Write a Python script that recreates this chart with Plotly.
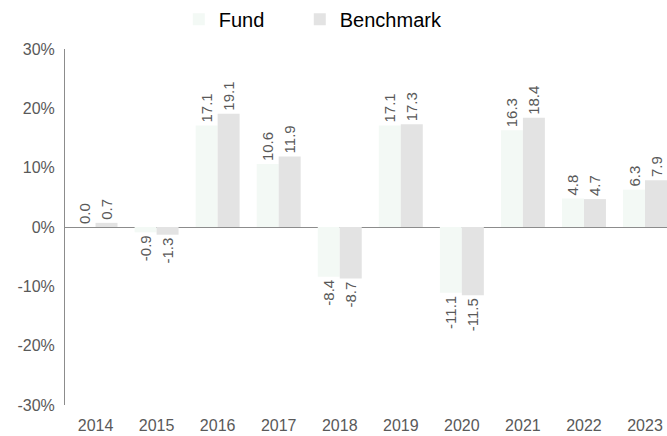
import plotly.graph_objects as go

years = ["2014", "2015", "2016", "2017", "2018", "2019", "2020", "2021", "2022", "2023"]
fund = [0.0, -0.9, 17.1, 10.6, -8.4, 17.1, -11.1, 16.3, 4.8, 6.3]
benchmark = [0.7, -1.3, 19.1, 11.9, -8.7, 17.3, -11.5, 18.4, 4.7, 7.9]
y_ticks = [-30, -20, -10, 0, 10, 20, 30]
y_tick_labels = [f"{v}%" for v in y_ticks]

font_family = "Liberation Sans, Arial, sans-serif"
gray = "#595959"

fig = go.Figure()
for name, vals, color, lg in [("Fund", fund, "#F3F9F5", "legend"),
                              ("Benchmark", benchmark, "#E3E3E3", "legend2")]:
    fig.add_trace(go.Bar(
        x=years, y=vals, name=name, legend=lg, showlegend=True,
        marker=dict(color=color, line=dict(width=0)),
        text=[f"{v:.1f}" for v in vals], textposition="outside", textangle=-90,
        constraintext="none",
        textfont=dict(family=font_family, size=15, color=gray), cliponaxis=False,
    ))

legend_common = dict(orientation="h", xanchor="left", yref="container", y=0.956,
                     yanchor="middle", font=dict(family=font_family, size=20, color="black"))

fig.update_layout(
    width=667, height=436, margin=dict(l=65, r=0, t=49, b=31),
    plot_bgcolor="white", paper_bgcolor="white",
    barmode="group", bargap=0.28, bargroupgap=0,
    font=dict(family=font_family, color=gray, size=15),
    legend=dict(x=0.189, **legend_common),
    legend2=dict(x=0.39, **legend_common),
    xaxis=dict(range=[-0.5, 9.36], showline=False, ticks="", automargin=False,
               ticklabelstandoff=9, tickfont=dict(size=16, color=gray)),
    yaxis=dict(range=[-30, 30], tickvals=y_ticks, ticktext=y_tick_labels, showgrid=False,
               showline=True, linecolor="#8c8c8c", linewidth=1, zeroline=True,
               zerolinecolor="#8c8c8c", zerolinewidth=1, ticks="", automargin=False,
               ticklabelstandoff=6, tickfont=dict(size=16, color=gray)),
)
fig.write_html(
    "out.html",
    config={"displayModeBar": False},
    post_script="document.body.style.margin='0';document.body.style.overflow='hidden';",
)
